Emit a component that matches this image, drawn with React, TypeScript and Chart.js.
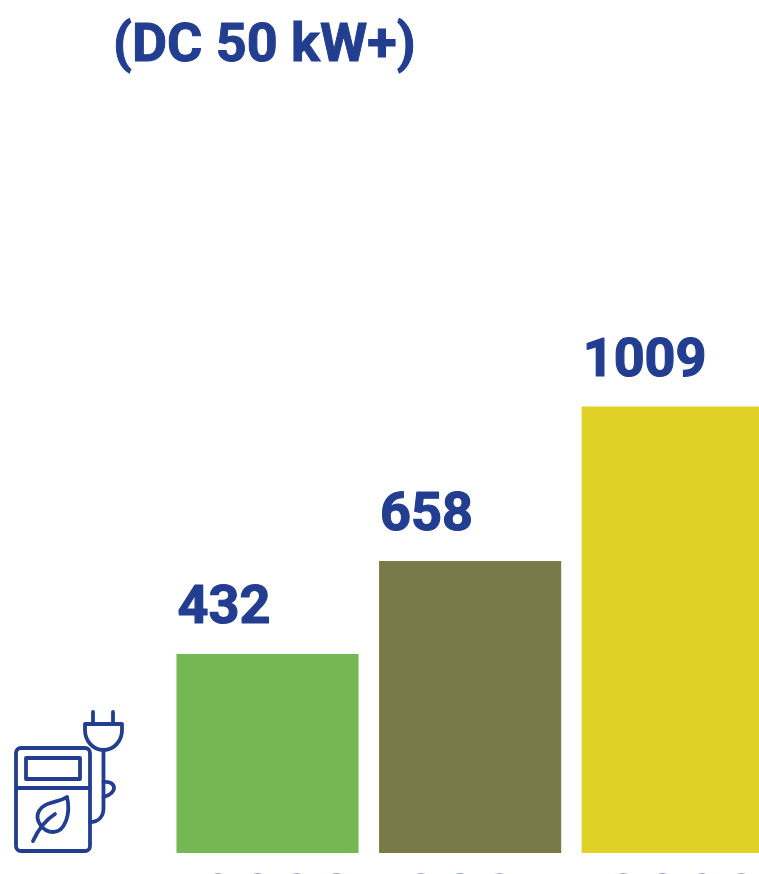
import React, { useEffect, useRef } from "react";
import { Chart, registerables } from "chart.js";

Chart.register(...registerables);

const years = ["2020", "2021", "2022"];
const barHeights = [450, 660, 1009];
const valueLabels = ["432", "658", "1009"];
const barColors = ["#75b853", "#7a7a48", "#dfd126"];
const titleLine = "(DC 50 kW+)";
const BLUE = "#233e90";
const FONT = "Roboto";

const labelPlugin = {
  id: "valueLabels",
  afterDatasetsDraw(chart: any) {
    const { ctx } = chart;
    ctx.save();
    ctx.font = `700 54px ${FONT}`;
    ctx.fillStyle = BLUE;
    ctx.strokeStyle = BLUE;
    ctx.lineWidth = 1.2;
    ctx.lineJoin = "round";
    ctx.textAlign = "left";
    ctx.textBaseline = "alphabetic";
    chart.getDatasetMeta(0).data.forEach((bar: any, i: number) => {
      const x = bar.x - bar.width / 2 + 1;
      const y = bar.y - 31;
      ctx.fillText(valueLabels[i], x, y);
      ctx.strokeText(valueLabels[i], x, y);
    });
    ctx.restore();
  },
};

function Icon() {
  return (
    <svg
      width={130}
      height={150}
      viewBox="0 710 130 150"
      style={{ position: "absolute", left: 0, top: 710 }}
      fill="none"
      stroke={BLUE}
      strokeWidth={3.8}
      strokeLinecap="round"
      strokeLinejoin="round"
    >
      <rect x={16} y={748} width={74} height={103} rx={5} />
      <rect x={26} y={758} width={54} height={21} />
      <path d="M16 788H90" />
      <path d="M93 712V723M113 712V723" />
      <path d="M85 724H122V730C122 741 114 750 103.500 750C93 750 85 741 85 730Z" />
      <path d="M103.500 750V808C103.500 817 98 822 90 822" />
      <path d="M103.500 782C110 781 114 784 114 788C114 792 110 795 103.500 797" />
      <path d="M67 797C58 803 45 801 39 811C34 820 43 832 53 832C65 832 71 814 67 797Z" />
      <path d="M33 841C38 830 44 821 55 814" />
    </svg>
  );
}

export default function App() {
  const ref = useRef<HTMLCanvasElement>(null);
  useEffect(() => {
    const chart = new Chart(ref.current!, {
      type: "bar",
      data: {
        labels: years,
        datasets: [
          {
            data: barHeights,
            backgroundColor: barColors,
            barPercentage: 0.899,
            categoryPercentage: 1,
          },
        ],
      },
      options: {
        responsive: false,
        animation: false,
        layout: { padding: { left: 166.25, right: 0, top: 0, bottom: 0 } },
        plugins: { legend: { display: false }, title: { display: false }, tooltip: { enabled: false } },
        scales: {
          x: {
            grid: { display: false },
            border: { display: false },
            afterFit: (s: any) => {
              s.height = 107;
            },
            ticks: {
              color: BLUE,
              font: { family: FONT, size: 70, weight: 400 },
              labelOffset: 10,
              padding: 3,
              maxRotation: 0,
              autoSkip: false,
            },
          },
          y: { display: false, min: 0, max: 1928 },
        },
      },
      plugins: [labelPlugin],
    } as any);
    return () => chart.destroy();
  }, []);

  return (
    <div style={{ position: "fixed", left: 0, top: 0, width: 759, height: 874, overflow: "hidden", background: "#fff" }}>
      <canvas ref={ref} width={774} height={960} style={{ position: "absolute", left: 0, top: 0, width: 774, height: 960 }} />
      <div
        style={{
          position: "absolute",
          left: 113,
          top: 8,
          font: `700 54px ${FONT}`,
          lineHeight: "70px",
          WebkitTextStroke: `1px ${BLUE}`,
          color: BLUE,
          whiteSpace: "nowrap",
        }}
      >
        {titleLine}
      </div>
      <Icon />
    </div>
  );
}
